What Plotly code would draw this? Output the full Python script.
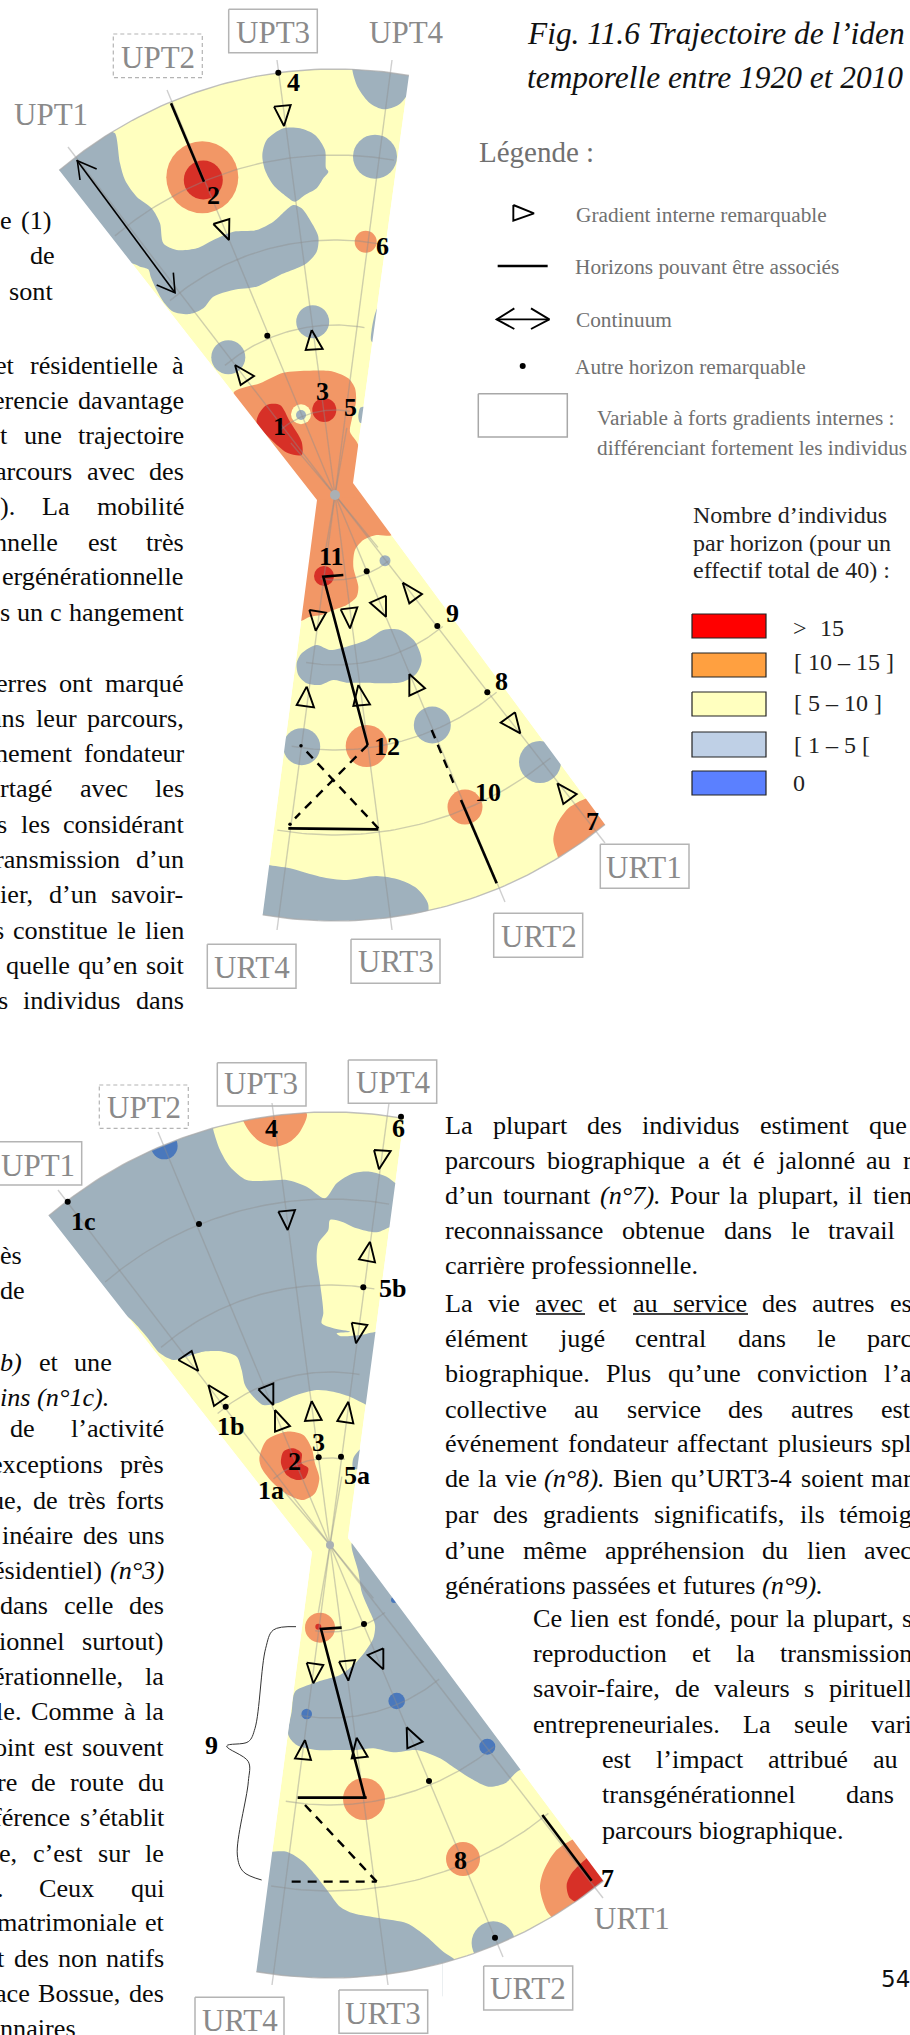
import math, unicodedata
import numpy as np
import plotly.graph_objects as go

# ---------- palette ----------
YELLOW = "#FFFFBF"; ORANGE = "#F29766"; RED = "#D73027"; GREY = "#9FB1BD"; BLUE = "#4A78BC"
LINEGREY = "rgba(140,140,140,0.42)"; LABEL = "#8A8A8A"; BODY = "#0A0A0A"; LEG = "#707070"

# ---------- map geometry (centre, corner points, ring radii, spoke tips) ----------
M1_CENTER = (335, 495)
M1_RINGS = [85, 170, 255, 340]
M1_OUTER = 426
M1_TOP = [(59, 170), (409, 75)]
M1_BOT = [(603, 822), (263, 913)]
M1_WAIST = [(353, 483), (317, 500)]
M1_SPOKES = [(68, 147), (167, 90), (277, 60), (392, 60), (605, 843), (505, 902), (392, 930), (277, 930)]

M2_CENTER = (330, 1545)
M2_RINGS = [87, 173, 260, 346]
M2_OUTER = 433
M2_TOP = [(48, 1215), (404, 1118)]
M2_BOT = [(601, 1878), (257, 1968)]
M2_WAIST = [(348, 1538), (312, 1552)]
M2_SPOKES = [(58, 1190), (158, 1132), (272, 1103), (389, 1103), (603, 1898), (503, 1957), (388, 1985), (272, 1985)]

# ---------- regions of map 1 (points read at 3x: crop origin, then points) ----------
A1 = (0, 0); A3 = (0, 500); A4 = (455, 500)
M1_GREY_BAND = [(100,500),(160,480),(225,455),(330,395),(345,400),(360,490),(375,540),(410,590),(455,625),(480,670),(490,730),(530,750),(590,745),(640,720),(700,695),(770,690),(820,665),(880,615),(905,625),(930,660),(955,710),(950,755),(920,790),(890,805),(840,825),(770,860),(700,870),(640,890),(610,925),(570,942),(520,935),(490,905),(470,870),(452,830),(445,808),(420,800),(395,790),(300,790)]
M1_GREY_CORNER = [(1058,180),(1058,215),(1075,265),(1110,310),(1150,328),(1195,315),(1222,285),(1260,200),(1260,180)]
M1_GREY_DROP = [(850,385),(900,385),(945,405),(975,450),(978,505),(985,515),(970,535),(950,565),(915,585),(885,605),(860,590),(820,555),(795,510),(787,465),(800,420)]
M1_GREY_EDGE = [(1135,920),(1115,990),(1115,1025),(1150,1025),(1160,920)]
M1_ORANGE_WAIST = [(700,1180),(780,1150),(850,1118),(930,1112),(1000,1115),(1045,1135),(1065,1165),(1068,1205),(1055,1260),(1050,1295),(1075,1335),(1090,1560),(900,1560),(800,1350)]
M1_GREY_NOTCH = [(1082,1222),(1075,1250),(1080,1268),(1100,1268),(1100,1222)]
M1_RED_1 = [(800,1215),(840,1215),(870,1265),(905,1325),(905,1365),(865,1360),(820,1325),(770,1270),(775,1245)]
M1_ORANGE_LOWER = [(950,0),(1092,0),(1175,105),(1130,105),(1090,120),(1065,150),(1060,200),(1075,260),(1070,290),(1040,315),(1000,330),(965,345),(930,350),(905,362),(880,362),(900,0)]
M1_GREY_LOWER = [(890,490),(905,460),(950,435),(990,450),(1040,440),(1100,420),(1150,390),(1200,390),(1245,425),(1265,480),(1250,520),(1210,545),(1150,550),(1090,548),(1040,548),(1000,540),(960,555),(920,550),(895,525)]
M1_GREY_BOTTOM = [(780,1090),(805,1095),(870,1105),(960,1130),(1040,1140),(1130,1128),(1200,1140),(1250,1165),(1285,1215),(1260,1300),(760,1300)]
M1_ORANGE_7 = [(395,895),(340,925),(305,975),(295,1020),(305,1060),(320,1090),(420,1060),(480,980),(430,890)]
# circles: x, y, radius in px
M1_CIRCLES_ORANGE = [(202.3,177.3,36),(365.7,241.7,11),(366.7,746,21),(465,807,17.5)]
M1_CIRCLES_RED = [(203.3,180,19.5),(324.3,410,12),(324,576,10)]
M1_CIRCLES_GREY = [(375,156.7,22),(312.7,321.7,16.5),(228.3,357.3,17),(385,560.7,5.5),(301.7,746.7,18.5),(432.3,725,18.5),(540,762,21)]
M1_CIRCLES_YELLOW = [(301,414.3,10)]
M1_CIRCLES_DARK = [(301,415,5)]

# ---------- regions of map 2 ----------
B5 = (0, 1020); B6 = (0, 1515); B8 = (455, 1515)
M2_GREY_BIG = [(100,600),(145,580),(300,420),(500,320),(635,300),(640,330),(660,390),(690,440),(740,480),(800,482),(860,480),(920,500),(975,535),(1010,490),(1060,460),(1110,455),(1160,470),(1190,490),(1240,490),(1230,625),(1175,620),(1130,637),(1070,625),(1025,605),(990,600),(985,630),(955,670),(950,720),(960,790),(970,880),(965,910),(1000,925),(1050,935),(1010,940),(1020,948),(1080,945),(1130,935),(1180,935),(1140,1160),(1100,1155),(1090,1150),(1050,1130),(1000,1115),(950,1110),(890,1125),(830,1150),(790,1155),(760,1130),(735,1095),(725,1050),(710,1010),(670,995),(610,995),(560,1010),(520,1020),(480,1000),(440,950),(400,905),(370,880),(300,800)]
M2_ORANGE_4 = [(725,280),(745,330),(780,365),(825,380),(870,365),(900,335),(920,280),(820,260)]
M2_ORANGE_2 = [(800,1260),(860,1235),(910,1245),(935,1285),(945,1330),(958,1375),(945,1420),(910,1440),(865,1425),(820,1390),(785,1345),(778,1315)]
M2_RED_2 = [(850,1295),(880,1285),(905,1300),(905,1330),(925,1345),(915,1375),(890,1380),(860,1365),(843,1330)]
M2_GREY_TINY = [(1085,1285),(1060,1315),(1060,1345),(1100,1345),(1100,1285)]
M2_GREY_UPPER = [(1055,85),(1075,170),(1085,230),(1105,280),(1125,330),(1120,370),(1095,410),(1060,450),(1020,480),(970,495),(925,510),(885,530),(875,590),(865,660),(890,690),(950,705),(1010,705),(1070,705),(1120,700),(1180,712),(1250,705),(1320,730),(1365,760),(1395,780),(1465,815),(1515,805),(1560,765),(1700,765),(1300,60),(1080,60)]
M2_GREY_BOTTOM = [(790,1010),(810,1010),(860,1010),(910,1040),(950,1085),(985,1130),(1020,1175),(1060,1195),(1140,1210),(1220,1225),(1280,1265),(1330,1310),(1365,1335),(1400,1420),(700,1420)]
M2_ORANGE_7 = [(350,975),(300,1010),(265,1070),(255,1120),(280,1195),(340,1240),(470,1100),(400,960)]
M2_RED_7 = [(395,1030),(350,1075),(335,1110),(345,1150),(400,1170),(470,1090),(420,1010)]
M2_CIRCLES_BLUE = [(164.3,1146,13.3),(396.7,1701,8.3),(306.7,1714,5.3),(487.3,1746.7,8),(394,1600,3)]
M2_CIRCLES_ORANGE = [(320,1627.7,15),(364,1799,21),(463,1859,17)]
M2_CIRCLES_RED = [(318.3,1626.7,3)]
M2_CIRCLES_GREY = [(493.3,1943,21.7)]

# ---------- black marks ----------
TRI_A1 = [[(822,320),(872,315),(852,378)],[(640,672),(688,657),(687,720)],[(705,1095),(762,1128),(722,1155)],[(935,990),(968,1047),(917,1050)]]
TRI_A3 = [[(928,330),(978,338),(947,392)],[(1022,328),(1072,322),(1050,385)],[(1158,287),(1158,350),(1110,308)],[(1208,248),(1266,282),(1228,310)],[(920,560),(942,622),(890,615)],[(1075,555),(1110,613),(1060,618)],[(1228,522),(1275,565),(1228,587)]]
TRI_A4 = [[(180,637),(196,700),(137,668)],[(307,850),(365,882),(325,912)]]
TRI_B5 = [[(835,575),(885,570),(863,630)],[(1122,390),(1172,393),(1137,448)],[(1110,665),(1125,727),(1077,718)],[(1055,908),(1102,915),(1068,970)],[(535,1020),(575,993),(595,1053)],[(625,1095),(682,1130),(642,1158)],[(775,1108),(820,1090),(820,1155)],[(825,1170),(870,1218),(825,1235)],[(935,1143),(965,1200),(915,1203)],[(1045,1145),(1060,1210),(1012,1203)]]
TRI_B6 = [[(920,443),(970,450),(940,505)],[(1017,440),(1065,435),(1045,497)],[(1150,400),(1150,463),(1103,420)],[(915,675),(933,735),(885,730)],[(1070,668),(1103,725),(1055,730)],[(1220,637),(1268,680),(1222,700)]]
TRI_LEG = [[(175,615),(237,640),(175,662)]]

DOTS_BIG = [(278.3,72.7),(267.3,335.7),(366.7,571.3),(437.3,626),(487.3,692.3),(401,1116.7),(67.7,1201.7),(199,1224),(363.3,1287.3),(225.7,1406.7),(318.7,1457.3),(341,1456.7),(364,1624),(429,1781),(495,1937.7),(522.7,366)]
DOTS_SMALL = [(301,745.7),(290,824.3)]

SOLID_A = [[(513,310),(612,545)]]
SOLID_A3 = [[(1030,225),(970,230),(1103,735)],[(865,985),(1135,988)]]
SOLID_A4 = [[(18,900),(125,1150)]]
SOLID_B6 = [[(1025,338),(963,342),(1095,850)],[(893,848),(1100,848)]]
SOLID_B8 = [[(262,900),(410,1097)]]
SOLID_LEG = [[(128,798),(278,798)]]
DASH_A = [[(1103,735),(885,955)],[(920,755),(1135,985)],[(1295,690),(1365,860)]]
DASH_B = [[(915,870),(1130,1100)],[(875,1100),(1130,1100)]]
THIN_ARROW = [[(230,480),(525,878)],[(290,507),(232,482),(240,540)],[(470,855),(525,878),(520,818)]]
LEG_ARROW = [[(125,958),(283,958)],[(178,925),(125,958),(178,987)],[(228,925),(283,958),(228,987)]]
BRACE = [(888,335),(820,345),(797,400),(765,640),(745,680),(680,693),(745,740),(745,800),(712,1020),(730,1070),(785,1095)]

UNDERLINES = [[(536,1314),(585,1314)],[(633,1314),(748,1314)]]

# ---------- boxes and labels ----------
BOX_SOLID = [(228.7,9.3,317.3,52.7),(207.3,944.3,296,988.3),(351,939.3,440,983.3),(600.3,844.3,689,888.3),(493.7,913.3,582.7,957.3),
             (-3,1141.7,81.7,1185),(217.3,1062.7,306,1106),(348.3,1060,436.7,1103.3),(195,1997.3,284,2041),(339,1990,427.7,2033.3),(483.7,1966,572.7,2010)]
BOX_DASH = [(113.3,34,202.3,77.7),(99.3,1085,188.3,1128.3)]
BOX_LEG = [(478.3,393.7,567.3,437)]
LABELS = [("UPT1",51,114),("UPT2",157.7,57.3),("UPT3",273.3,32.7),("UPT4",406,32.7),("URT4",252.3,967.7),("URT3",396,961.7),("URT1",644.3,867.7),("URT2",539,936.7),
          ("UPT1",38.3,1165),("UPT2",144.3,1107.3),("UPT3",261,1083.3),("UPT4",393.3,1082.7),("URT4",240,2020),("URT3",383.3,2013),("URT1",631.7,1918),("URT2",527.7,1988.3)]
NUMBERS = [("4",293.3,82.7),("2",213.3,195),("6",382.3,246),("3",322.7,391.7),("5",350,407.3),("1",279.3,426.7),("11",331.7,556.7),("12",387.3,746),("8",501.7,681.7),("9",452,613),("10",488.3,792.3),("7",592.7,821.7),
           ("1c",83.3,1221.7),("4",271.7,1128.3),("6",398.3,1128.3),("5b",392.7,1288.3),("1b",230,1426),("3",318.3,1442.7),("2",294.3,1461.7),("5a",356.7,1475),("1a",271,1490),("9",211.7,1745),("8",460,1860),("7",607.3,1878.3)]

# ---------- legend ----------
SWATCH_COLORS = ["#FF0000", "#FFA040", "#FFFFBF", "#BFD0E6", "#5B80FF"]
SWATCH_Y = [(614,638),(653,677),(692,716),(732,757),(771,795)]
SWATCH_X = (692, 766)
SWATCH_TEXT = [(">",793,628),("15",820,628),("[ 10 – 15 ]",794,662),("[ 5 – 10 ]",794,703),("[ 1 – 5 [",794,745),("0",793,783)]
TITLE_LINES = [("Fig. 11.6 Trajectoire de l’iden",527,33),("temporelle entre 1920 et 2010",527,77)]
GREY_LINES = [("Gradient interne remarquable",576,215),("Horizons pouvant être associés",575,267),("Continuum",576,320),("Autre horizon remarquable",575,367),
              ("Variable à forts gradients internes :",597,418),("différenciant fortement les individus",597,448)]
LEG_TITLE = [("Nombre d’individus",693,515),("par horizon (pour un",693,543),("effectif total de 40) :",693,570)]

# ---------- running text: words, y, left end, right end (None = natural spacing) ----------
BODY_LEFT_1 = [("e (1)",220,0,52),("de",255,30,52),("sont",291,9,52),
 ("et résidentielle à",365,-4,184),("erencie davantage",400,-7,184),("t une trajectoire",435,0,184),("arcours avec des",471,-5,184),("). La mobilité",506,0,184),
 ("nnelle est très",542,-6,184),("ergénérationnelle",576,2,184),("s un c hangement",612,0,184),
 ("erres ont marqué",683,-4,184),("ans leur parcours,",718,-10,184),("nement fondateur",753,-4,184),("rtagé avec les",788,0,184),("s les considérant",824,-3,184),
 ("ransmission d’un",859,-5,184),("ier, d’un savoir-",894,0,184),("s constitue le lien",930,-6,184),("quelle qu’en soit",965,6,184),("s individus dans",1000,-2,184)]
BODY_LEFT_2 = [("ès",1255,0,22),("de",1290,0,22),("<i>b)</i> et une",1362,0,112),("<i>ins (n°1c).</i>",1397,0,None),
 ("de l’activité",1428,10,164),("exceptions près",1464,-9,164),("ue, de très forts",1500,-9,164),("inéaire des uns",1535,2,164),("ésidentiel) <i>(n°3)</i>",1570,-7,164),
 ("dans celle des",1605,0,164),("ionnel surtout)",1641,-2,164),("érationnelle, la",1676,-7,164),("le. Comme à la",1711,-4,164),("oint est souvent",1747,-6,164),
 ("re de route du",1782,-3,164),("férence s’établit",1817,-7,164),("e, c’est sur le",1853,-1,164),(". Ceux qui",1888,-3,164),("matrimoniale et",1922,-3,164),
 ("t des non natifs",1958,-2,164),("ace Bossue, des",1993,-5,164),("nnaires",2028,0,None)]
BODY_RIGHT = [("La plupart des individus estiment que",1125,445,907),("parcours biographique a ét é jalonné au r",1160,445,912),
 ("d’un tournant <i>(n°7).</i> Pour la plupart, il tien",1195,445,912),("reconnaissance obtenue dans le travail",1230,445,895),("carrière professionnelle.",1265,445,None),
 ("La vie avec et au service des autres es",1303,445,912),("élément jugé central dans le parc",1338,445,912),("biographique. Plus qu’une conviction l’a",1373,445,912),
 ("collective au service des autres est",1409,445,910),("événement fondateur affectant plusieurs spl",1443,445,912),("de la vie <i>(n°8).</i> Bien qu’URT3-4 soient mar",1478,445,912),
 ("par des gradients significatifs, ils témoig",1514,445,912),("d’une même appréhension du lien avec",1550,445,912),("générations passées et futures <i>(n°9).</i>",1585,445,None),
 ("Ce lien est fondé, pour la plupart, s",1618,533,912),("reproduction et la transmission",1653,533,912),("savoir-faire, de valeurs s pirituell",1688,533,912),("entrepreneuriales. La seule vari",1724,533,912),
 ("est l’impact attribué au",1759,602,898),("transgénérationnel dans",1794,602,894),("parcours biographique.",1830,602,None)]

PAGE_NUMBER = ("54", 881, 1979)

# ---------- helpers ----------
SERIF = "Liberation Serif"
TIMES = dict(a=444,b=500,c=444,d=500,e=444,f=333,g=500,h=500,i=278,j=278,k=500,l=278,m=778,n=500,o=500,p=500,q=500,r=333,s=389,t=278,u=500,v=500,w=722,x=500,y=500,z=444,
             A=722,B=667,C=667,D=722,E=611,F=556,G=722,H=722,I=333,J=389,K=722,L=611,M=889,N=722,O=722,P=556,Q=722,R=667,S=556,T=611,U=722,V=722,W=944,X=722,Y=722,Z=611)
TIMES.update({".":250,",":250,":":278,";":278,"-":333,"(":333,")":333,"’":333,"°":400})

def text_width(word, size):
    plain = word.replace("<i>", "").replace("</i>", "")
    total = 0
    for ch in plain:
        base = unicodedata.normalize("NFD", ch)[0]
        total += TIMES.get(base, 500)
    return total * size / 1000

def crop(origin, pts):
    return [(origin[0] + p[0] / 3, origin[1] + p[1] / 3) for p in pts]

fig = go.Figure()

def area(pts, color, smooth=True):
    xs = [p[0] for p in pts] + [pts[0][0]]
    ys = [p[1] for p in pts] + [pts[0][1]]
    shape = "spline" if smooth else "linear"
    fig.add_trace(go.Scatter(x=xs, y=ys, mode="lines", fill="toself", fillcolor=color, line=dict(color=color, width=0, shape=shape, smoothing=0.8), hoverinfo="skip", showlegend=False))

def dots(items, color):
    fig.add_trace(go.Scatter(x=[c[0] for c in items], y=[c[1] for c in items], mode="markers",
                             marker=dict(color=color, opacity=1, size=[2 * c[2] for c in items], line=dict(width=0)), hoverinfo="skip", showlegend=False))

def lines(paths, color="black", width=2.0, dash=None, closed=False):
    xs, ys = [], []
    for p in paths:
        q = list(p) + ([p[0]] if closed else [])
        xs += [a[0] for a in q] + [None]
        ys += [a[1] for a in q] + [None]
    fig.add_trace(go.Scatter(x=xs, y=ys, mode="lines", line=dict(color=color, width=width, dash=dash), hoverinfo="skip", showlegend=False))

def arc(center, r, a0, a1, n=60):
    t = np.radians(np.linspace(a0, a1, n))
    return list(zip(center[0] + r * np.cos(t), center[1] + r * np.sin(t)))

def ang(center, p):
    return math.degrees(math.atan2(p[1] - center[1], p[0] - center[0]))

def fan(center, outer, top, bot, waist):
    ta0, ta1 = ang(center, top[0]), ang(center, top[1])
    ba0, ba1 = ang(center, bot[0]), ang(center, bot[1])
    tarc = arc(center, outer, ta0, ta1)
    barc = arc(center, outer, ba0, ba1)
    return tarc, barc, (ta0, ta1), (ba0, ba1)

def base(center, outer, top, bot, waist):
    tarc, barc, _, _ = fan(center, outer, top, bot, waist)
    area(tarc + [waist[0]] + barc + [waist[1]], YELLOW, smooth=False)

def mask(center, outer, top, bot, waist, y0, y1):
    tarc, barc, _, _ = fan(center, outer, top, bot, waist)
    m = len(tarc) // 2
    right = tarc[m:] + [waist[0]] + barc[:m] + [(barc[m - 1][0], y1), (960, y1), (960, y0), (tarc[m][0], y0)]
    left = barc[m - 1:] + [waist[1]] + tarc[:m + 1] + [(tarc[m][0], y0), (-50, y0), (-50, y1), (barc[m - 1][0], y1)]
    area(right, "white", smooth=False)
    area(left, "white", smooth=False)

def grid(center, rings, outer, top, bot, spokes):
    ta = (ang(center, top[0]), ang(center, top[1]))
    ba = (ang(center, bot[0]), ang(center, bot[1]))
    paths = []
    for r in rings:
        paths.append(arc(center, r, *ta))
        paths.append(arc(center, r, *ba))
    for s in spokes:
        paths.append([center, s])
    for c in top + bot:
        d = np.array(c) - np.array(center)
        paths.append([center, tuple(np.array(center) + d * 0.16)])
    lines(paths, LINEGREY, 1.4)
    lines([arc(center, outer, *ta), arc(center, outer, *ba)], "rgba(170,170,170,0.75)", 1.4)

def note(text, x, y, size, color=BODY, anchor="left", font=SERIF):
    fig.add_annotation(x=x, y=y, xref="x", yref="y", text=text, showarrow=False, xanchor=anchor, yanchor="middle",
                       font=dict(family=font, size=size, color=color), borderpad=0, borderwidth=0)

def body_line(text, y, xl, xr, size=26.2):
    if xr is None:
        note(text, xl, y, size)
        return
    words = text.split(" ")
    widths = [text_width(w, size) for w in words]
    if len(words) == 1:
        note(text, xl, y, size)
        return
    gap = (xr - xl - sum(widths)) / (len(words) - 1)
    x = xl
    for w, wd in zip(words, widths):
        if x < 0:
            note(w, x + wd, y, size, anchor="right")
        elif x < 910:
            note(w, x, y, size)
        x += wd + gap

# ---------- draw ----------
base(M1_CENTER, M1_OUTER, M1_TOP, M1_BOT, M1_WAIST)
base(M2_CENTER, M2_OUTER, M2_TOP, M2_BOT, M2_WAIST)

for pts, col in [(crop(A1, M1_GREY_BAND), GREY), (crop(A1, M1_GREY_CORNER), GREY), (crop(A1, M1_GREY_DROP), GREY), (crop(A1, M1_GREY_EDGE), GREY),
                 (crop(A1, M1_ORANGE_WAIST), ORANGE), (crop(A1, M1_GREY_NOTCH), GREY), (crop(A1, M1_RED_1), RED),
                 (crop(A3, M1_ORANGE_LOWER), ORANGE), (crop(A3, M1_GREY_LOWER), GREY), (crop(A3, M1_GREY_BOTTOM), GREY), (crop(A4, M1_ORANGE_7), ORANGE)]:
    area(pts, col)
dots(M1_CIRCLES_GREY, GREY); dots(M1_CIRCLES_ORANGE, ORANGE); dots(M1_CIRCLES_RED, RED); dots(M1_CIRCLES_YELLOW, YELLOW); dots(M1_CIRCLES_DARK, GREY)

for pts, col in [(crop(B5, M2_GREY_BIG), GREY), (crop(B5, M2_ORANGE_4), ORANGE), (crop(B5, M2_ORANGE_2), ORANGE), (crop(B5, M2_RED_2), RED), (crop(B5, M2_GREY_TINY), GREY),
                 (crop(B6, M2_GREY_UPPER), GREY), (crop(B6, M2_GREY_BOTTOM), GREY), (crop(B8, M2_ORANGE_7), ORANGE), (crop(B8, M2_RED_7), RED)]:
    area(pts, col)
dots(M2_CIRCLES_GREY, GREY); dots(M2_CIRCLES_BLUE, BLUE); dots(M2_CIRCLES_ORANGE, ORANGE); dots(M2_CIRCLES_RED, RED)

mask(M1_CENTER, M1_OUTER, M1_TOP, M1_BOT, M1_WAIST, -60, 1040)
mask(M2_CENTER, M2_OUTER, M2_TOP, M2_BOT, M2_WAIST, 1040, 2100)

grid(M1_CENTER, M1_RINGS, M1_OUTER, M1_TOP, M1_BOT, M1_SPOKES)
grid(M2_CENTER, M2_RINGS, M2_OUTER, M2_TOP, M2_BOT, M2_SPOKES)
dots([(M1_CENTER[0], M1_CENTER[1], 5), (M2_CENTER[0], M2_CENTER[1], 4)], "#AAB0B4")

triangles = []
for o, group in [(A1, TRI_A1), (A3, TRI_A3), (A4, TRI_A4), (B5, TRI_B5), (B6, TRI_B6), ((455, 0), TRI_LEG)]:
    triangles += [crop(o, t) for t in group]
lines(triangles, "black", 1.9, closed=True)

thick = [crop(A1, p) for p in SOLID_A] + [crop(A3, p) for p in SOLID_A3] + [crop(A4, p) for p in SOLID_A4] + \
        [crop(B6, p) for p in SOLID_B6] + [crop(B8, p) for p in SOLID_B8] + [crop((455, 0), p) for p in SOLID_LEG]
lines(thick, "black", 2.6)
lines([crop(A3, p) for p in DASH_A] + [crop(B6, p) for p in DASH_B], "black", 2.4, dash="9px,7px")
lines([crop(A1, p) for p in THIN_ARROW], "black", 1.6)
lines([crop((455, 0), p) for p in LEG_ARROW], "black", 1.9)
fig.add_trace(go.Scatter(x=[p[0] for p in crop(B6, BRACE)], y=[p[1] for p in crop(B6, BRACE)], mode="lines",
                         line=dict(color="#333333", width=1, shape="spline"), hoverinfo="skip", showlegend=False))
lines(UNDERLINES, "black", 1.5)

fig.add_trace(go.Scatter(x=[d[0] for d in DOTS_BIG], y=[d[1] for d in DOTS_BIG], mode="markers", marker=dict(color="black", size=6, opacity=1, line=dict(width=0)), hoverinfo="skip", showlegend=False))
fig.add_trace(go.Scatter(x=[d[0] for d in DOTS_SMALL], y=[d[1] for d in DOTS_SMALL], mode="markers", marker=dict(color="black", size=3.5, opacity=1, line=dict(width=0)), hoverinfo="skip", showlegend=False))

def rects(items):
    return [[(a, b), (c, b), (c, d), (a, d)] for a, b, c, d in items]
lines(rects(BOX_SOLID), "#B4B4B4", 1.5, closed=True)
lines(rects(BOX_LEG), "#A8A8A8", 1.5, closed=True)
lines(rects(BOX_DASH), "#B4B4B4", 1.2, dash="4px,3px", closed=True)

for col, (y0, y1) in zip(SWATCH_COLORS, SWATCH_Y):
    fig.add_trace(go.Scatter(x=[SWATCH_X[0], SWATCH_X[1], SWATCH_X[1], SWATCH_X[0], SWATCH_X[0]], y=[y0, y0, y1, y1, y0], mode="lines", fill="toself",
                             fillcolor=col, line=dict(color="#222222", width=1.2), hoverinfo="skip", showlegend=False))

for t, x, y in LABELS:
    note(t, x, y, 31, LABEL, anchor="center")
for t, x, y in NUMBERS:
    note("<b>%s</b>" % t, x, y, 26, "black", anchor="center")
for t, x, y in TITLE_LINES:
    note("<i>%s</i>" % t, x, y, 31.4, "#111111")
note("Légende :", 479, 152, 29, LEG)
for t, x, y in GREY_LINES:
    note(t, x, y, 21.3, LEG)
for t, x, y in LEG_TITLE:
    note(t, x, y, 24, "#222222")
for t, x, y in SWATCH_TEXT:
    note(t, x, y, 24, "#222222")
for block in (BODY_LEFT_1, BODY_LEFT_2, BODY_RIGHT):
    for t, y, xl, xr in block:
        body_line(t, y, xl, xr)
note(PAGE_NUMBER[0], PAGE_NUMBER[1], PAGE_NUMBER[2], 23, "#111111", font="DejaVu Sans")

fig.update_layout(width=910, height=2035, margin=dict(l=0, r=0, t=0, b=0), paper_bgcolor="white", plot_bgcolor="white", showlegend=False,
                  xaxis=dict(range=[0, 910], visible=False, fixedrange=True),
                  yaxis=dict(range=[2035, 0], visible=False, fixedrange=True))
fig.write_html("out.html", config={"displayModeBar": False}, post_script="document.body.style.margin='0';document.documentElement.style.overflow='hidden';")
